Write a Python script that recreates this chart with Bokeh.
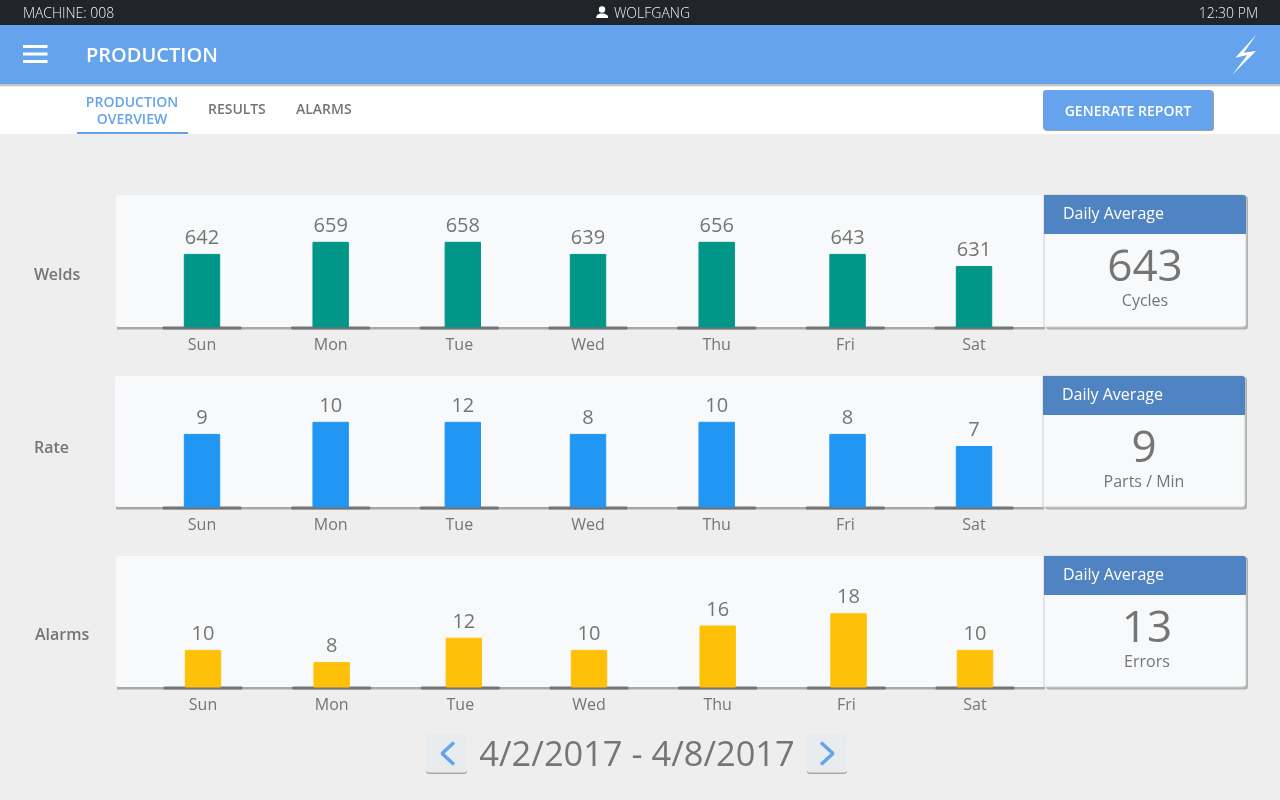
from bokeh.core.properties import value
from bokeh.models import Range1d, LinearAxis, FixedTicker, ColumnDataSource
from bokeh.plotting import figure
from bokeh.embed import file_html
from bokeh.resources import INLINE

days = ['Sun', 'Mon', 'Tue', 'Wed', 'Thu', 'Fri', 'Sat']

welds_values = [642, 659, 658, 639, 656, 643, 631]
rate_values = [9, 10, 12, 8, 10, 8, 7]
alarms_values = [10, 8, 12, 10, 16, 18, 10]

# the bars of the reference are not proportional to the printed numbers,
# they sit on a coarse grid of levels
welds_levels = [6, 7, 7, 6, 7, 6, 5]
rate_levels = [6, 7, 7, 6, 7, 6, 5]
alarms_levels = [3, 2, 4, 3, 5, 6, 3]

welds_average = 643
rate_average = 9
alarms_average = 13

FONT = 'Open Sans'
SEMI = 'Open Sans SemiBold'
LIGHT = 'Open Sans Light'
GREY = '#757575'
BLUE = '#65a3ec'
DAY_PX = 128.67
BAR_PX = 35.4
# Tue and Fri bars stand a little to the right of their axis labels
BAR_NUDGE = [0, 0, 0.027, 0, 0, 0.017, 0]

# frame is a bit bigger than the window, half pixel keeps the box edges crisp
LEFT, RIGHT = -1.5, 1282.5
TOP, BOTTOM = -1.5, 802.5

p = figure(width=1284, height=804, output_backend='svg', toolbar_location=None,
           x_range=Range1d(LEFT, RIGHT), y_range=Range1d(BOTTOM, TOP),
           x_axis_type=None, y_axis_type=None, min_border=0,
           outline_line_color=None, background_fill_color='#eeeeee', border_fill_color='#eeeeee',
           styles={'position': 'fixed', 'left': '-2px', 'top': '-2px'})


def AddBox(left, right, top, bottom, color, alpha=1.0, radius=0, line=None):
    p.quad(left=[left], right=[right], top=[top], bottom=[bottom], fill_color=color,
           fill_alpha=alpha, line_color=line, border_radius=radius)


def AddText(x, y, text, size, color=GREY, align='left', font=FONT):
    p.text(x=[x], y=[y], text=[text], text_font=value(font), text_font_size=f'{size}px', text_color=color,
           text_align=align, text_baseline='middle')


def AddPanel(name, title, values, levels, level_px, average, unit, color, left, top, base, bar_x, label_x, label_y, avg_x):
    # panel and its shadow
    AddBox(left + 1, left + 929, top + 2, base + 2.5, '#a8a8a8')
    AddBox(left, left + 928, top, base, '#f8f9fb', radius=(3, 0, 0, 3))
    AddText(label_x, label_y, title, 16, font=SEMI)

    # every panel has its own scale: day number across, level upwards
    x_name, y_name = name + '_x', name + '_y'
    p.extra_x_ranges[x_name] = Range1d((LEFT - bar_x) / DAY_PX, (RIGHT - bar_x) / DAY_PX)
    p.extra_y_ranges[y_name] = Range1d((base - BOTTOM) / level_px, (base - TOP) / level_px)

    idx = list(range(len(days)))
    source = ColumnDataSource(data=dict(x=[i + n for i, n in zip(idx, BAR_NUDGE)], top=levels,
                                        label=[str(v) for v in values]))
    # dark stub under every bar
    p.vbar(x=idx, top=0, bottom=-2 / level_px, width=78 / DAY_PX, color=GREY,
           x_range_name=x_name, y_range_name=y_name)
    p.vbar(x='x', top='top', bottom=0, width=BAR_PX / DAY_PX, color=color, source=source,
           x_range_name=x_name, y_range_name=y_name)
    p.text(x='x', y='top', text='label', source=source, text_font=value(FONT), text_font_size='20px',
           text_color=GREY, text_align='center', text_baseline='bottom', y_offset=-10.5,
           x_range_name=x_name, y_range_name=y_name)

    axis = LinearAxis(x_range_name=x_name, fixed_location=base, ticker=FixedTicker(ticks=idx),
                      major_label_overrides=dict(zip(idx, days)), axis_line_color=None,
                      major_tick_line_color=None, minor_tick_line_color=None,
                      major_label_standoff=0, major_label_text_font=FONT,
                      major_label_text_font_size='16px', major_label_text_color=GREY)
    p.add_layout(axis, 'below')

    # daily average card
    right = left + 928 + 202
    AddBox(left + 930, right + 2, top + 1, base + 2.5, '#b0b0b0', radius=3)
    AddBox(left + 928, right, top, base, '#f8f9fb', radius=(0, 3, 3, 0), line='#cfcfcf')
    AddBox(left + 928, right, top, top + 39, '#5083c1', radius=(0, 3, 0, 0))
    AddText(left + 947, top + 18, 'Daily Average', 16, color='white')
    AddText(avg_x, top + 70, str(average), 44, align='center')
    AddText(avg_x, top + 105, unit, 16, align='center')


# top bars
AddBox(LEFT, RIGHT, TOP, 25, '#212529')
AddText(23, 12.5, 'MACHINE: 008', 14, color='#f2f2f2', font=LIGHT)
AddText(614, 12.5, 'WOLFGANG', 14, color='#f2f2f2', font=LIGHT)
AddText(1258, 12.5, '12:30 PM', 14, color='#f2f2f2', align='right', font=LIGHT)
p.circle(x=[602], y=[9.5], radius=3.2, color='white', line_color=None)
p.patch(x=[596, 597, 600, 604, 607, 608, 608, 596], y=[18, 15, 13.5, 13.5, 15, 16, 18, 18], color='white', line_color=None)

AddBox(LEFT, RIGHT, 84, 86.5, '#9a9a9a', alpha=0.5)
AddBox(LEFT, RIGHT, 25, 84, BLUE)
for y in [45, 52.5, 60]:
    AddBox(23, 47.5, y, y + 3, 'white')
AddText(86, 54.5, 'PRODUCTION', 20, color='white', font=SEMI)
p.patch(x=[1256.7, 1235.3, 1247.3, 1232.3, 1256, 1243.7],
        y=[34.3, 57.7, 55, 74.7, 51, 52.7], color='white', line_color=None)

# tabs and button
AddBox(LEFT, RIGHT, 86.5, 134, 'white')
AddText(132, 101.5, 'PRODUCTION', 14, color=BLUE, align='center', font=SEMI)
AddText(132, 118, 'OVERVIEW', 14, color=BLUE, align='center', font=SEMI)
AddBox(77, 188, 132, 134, BLUE)
AddText(208, 108.5, 'RESULTS', 14, font=SEMI)
AddText(296, 108.5, 'ALARMS', 14, font=SEMI)
AddBox(1044, 1214, 91, 131, '#a0a0a0', radius=3)
AddBox(1043, 1213, 90, 130, BLUE, radius=3)
AddText(1128, 110, 'GENERATE REPORT', 14, color='white', align='center', font=SEMI)

AddPanel('welds', 'Welds', welds_values, welds_levels, 12.1, welds_average, 'Cycles', '#009688',
         116, 195, 327, 202, 34, 274, 1145)
AddPanel('rate', 'Rate', rate_values, rate_levels, 12.1, rate_average, 'Parts / Min', '#2196f3',
         115, 376, 507, 202, 34, 447, 1144)
AddPanel('alarms', 'Alarms', alarms_values, alarms_levels, 12.2, alarms_average, 'Errors', '#ffc107',
         116, 556, 687, 203, 35, 634, 1147)

# date picker
for left, right, chevron in [(426, 467, [454, 442, 454]), (807, 847, [821, 833, 821])]:
    AddBox(left, right, 735, 774, '#a8a8a8', radius=3)
    AddBox(left, right, 734, 772.5, '#e9ecef', radius=3)
    p.line(x=chevron, y=[742.5, 753.5, 764.5], line_color=BLUE, line_width=3.5)
AddText(637, 752.5, '4/2/2017 - 4/8/2017', 34.4, align='center')

open("out.html", "w").write(file_html(p, INLINE))
